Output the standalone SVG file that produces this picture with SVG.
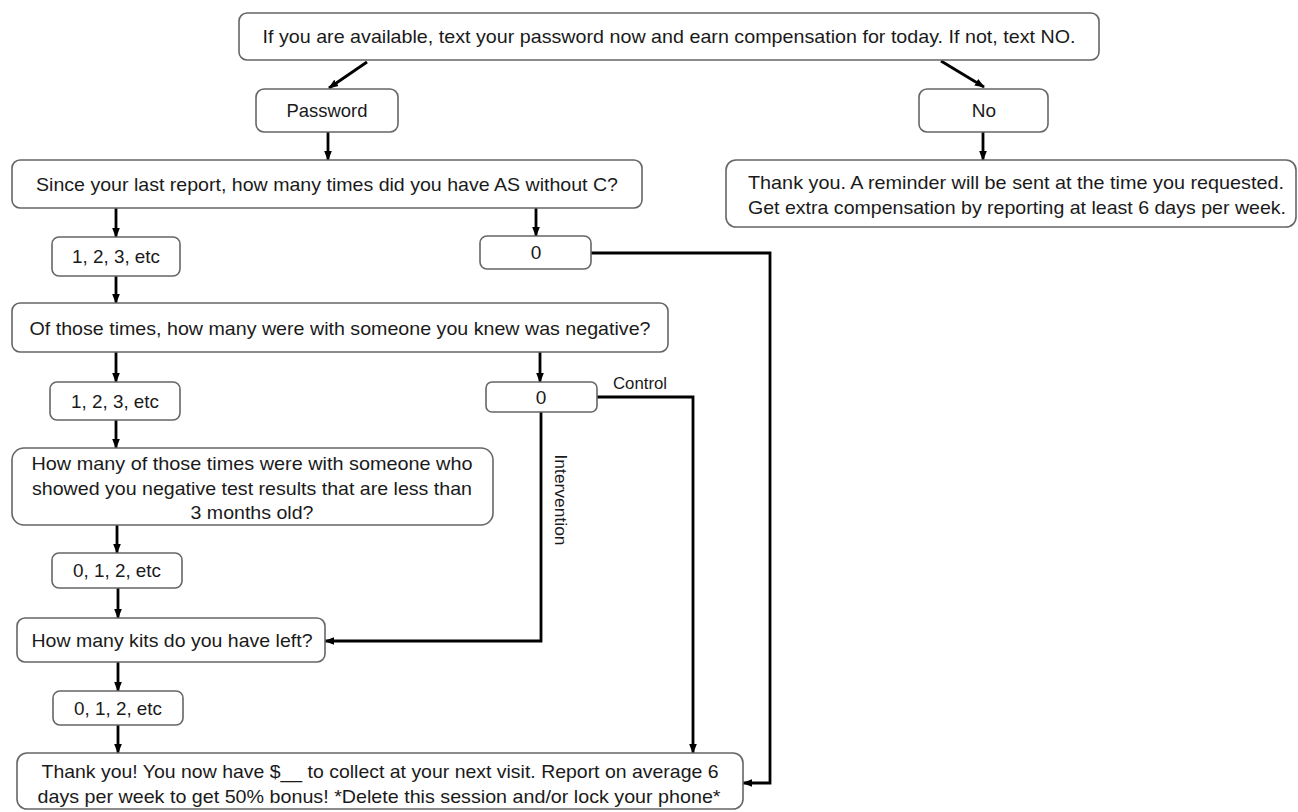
<svg xmlns="http://www.w3.org/2000/svg" width="1298" height="812" viewBox="0 0 1298 812">
<style>
.box{fill:#fff;stroke:#666;stroke-width:1.6}
.t{font-family:"Liberation Sans",Arial,sans-serif;font-size:19px;fill:#1a1a1a;text-anchor:middle}
.s{font-family:"Liberation Sans",Arial,sans-serif;font-size:16px;fill:#1a1a1a;text-anchor:middle}
.c{fill:none;stroke:#000;stroke-width:2.8;marker-end:url(#ah)}
</style>
<defs>
<marker id="ah" markerUnits="userSpaceOnUse" markerWidth="10" markerHeight="10" viewBox="0 0 10 10" refX="9" refY="5" orient="auto">
<path d="M0,1.2 L10,5 L0,8.8 z" fill="#000"/>
</marker>
</defs>
<rect width="1298" height="812" fill="#fff"/>
<g id="connectors">
<path class="c" d="M367,62 L329,88"/>
<path class="c" d="M941,61 L984,87"/>
<path class="c" d="M328,132 L328,160"/>
<path class="c" d="M983,132 L983,160"/>
<path class="c" d="M116,208 L116,237"/>
<path class="c" d="M536,208 L536,236"/>
<path class="c" d="M116,276 L116,303"/>
<path class="c" d="M591,253 L770,253 L770,783 L743,783"/>
<path class="c" d="M116,352 L116,382"/>
<path class="c" d="M540,352 L540,382"/>
<path class="c" d="M597,397 L693,397 L693,753"/>
<path class="c" d="M541,412 L541,641 L325,641"/>
<path class="c" d="M116,420 L116,448"/>
<path class="c" d="M117,525 L117,553"/>
<path class="c" d="M118,588 L118,618"/>
<path class="c" d="M118,662 L118,691"/>
<path class="c" d="M118,725 L118,753"/>
<text class="s" x="640" y="389" textLength="54" lengthAdjust="spacingAndGlyphs">Control</text>
<text class="s" x="0" y="0" transform="translate(555,500) rotate(90)" textLength="91" lengthAdjust="spacingAndGlyphs">Intervention</text>
</g>
<g id="n-top">
<rect class="box" x="239" y="13" width="860" height="47" rx="8"/>
<text class="t" x="669" y="43" textLength="813" lengthAdjust="spacingAndGlyphs">If you are available, text your password now and earn compensation for today. If not, text NO.</text>
</g>
<g id="n-password">
<rect class="box" x="256" y="89" width="142" height="43" rx="8"/>
<text class="t" x="327" y="117" textLength="81" lengthAdjust="spacingAndGlyphs">Password</text>
</g>
<g id="n-no">
<rect class="box" x="919" y="89" width="129" height="43" rx="8"/>
<text class="t" x="984" y="117">No</text>
</g>
<g id="n-thanks-no">
<rect class="box" x="726" y="160" width="570" height="67" rx="10"/>
<text class="t" x="1016" y="189" textLength="536" lengthAdjust="spacingAndGlyphs">Thank you. A reminder will be sent at the time you requested.</text>
<text class="t" x="1017" y="214" textLength="538" lengthAdjust="spacingAndGlyphs">Get extra compensation by reporting at least 6 days per week.</text>
</g>
<g id="n-since">
<rect class="box" x="12" y="160" width="630" height="48" rx="8"/>
<text class="t" x="327" y="191" textLength="582" lengthAdjust="spacingAndGlyphs">Since your last report, how many times did you have AS without C?</text>
</g>
<g id="n-123a">
<rect class="box" x="52" y="237" width="128" height="39" rx="7"/>
<text class="t" x="116" y="263" textLength="88" lengthAdjust="spacingAndGlyphs">1, 2, 3, etc</text>
</g>
<g id="n-0a">
<rect class="box" x="480" y="236" width="111" height="33" rx="7"/>
<text class="t" x="536" y="259">0</text>
</g>
<g id="n-of">
<rect class="box" x="12" y="303" width="656" height="49" rx="8"/>
<text class="t" x="340" y="335" textLength="621" lengthAdjust="spacingAndGlyphs">Of those times, how many were with someone you knew was negative?</text>
</g>
<g id="n-123b">
<rect class="box" x="50" y="382" width="130" height="38" rx="7"/>
<text class="t" x="115" y="408" textLength="88" lengthAdjust="spacingAndGlyphs">1, 2, 3, etc</text>
</g>
<g id="n-0b">
<rect class="box" x="486" y="382" width="111" height="30" rx="6"/>
<text class="t" x="541" y="404">0</text>
</g>
<g id="n-howmany">
<rect class="box" x="12" y="448" width="481" height="77" rx="12"/>
<text class="t" x="252" y="470" textLength="441" lengthAdjust="spacingAndGlyphs">How many of those times were with someone who</text>
<text class="t" x="252" y="495" textLength="440" lengthAdjust="spacingAndGlyphs">showed you negative test results that are less than</text>
<text class="t" x="252" y="519" textLength="123" lengthAdjust="spacingAndGlyphs">3 months old?</text>
</g>
<g id="n-012a">
<rect class="box" x="52" y="553" width="130" height="35" rx="7"/>
<text class="t" x="117" y="577" textLength="88" lengthAdjust="spacingAndGlyphs">0, 1, 2, etc</text>
</g>
<g id="n-kits">
<rect class="box" x="17" y="618" width="308" height="44" rx="8"/>
<text class="t" x="172" y="647" textLength="281" lengthAdjust="spacingAndGlyphs">How many kits do you have left?</text>
</g>
<g id="n-012b">
<rect class="box" x="53" y="691" width="130" height="34" rx="7"/>
<text class="t" x="118" y="715" textLength="88" lengthAdjust="spacingAndGlyphs">0, 1, 2, etc</text>
</g>
<g id="n-final">
<rect class="box" x="17" y="753" width="726" height="56" rx="10"/>
<text class="t" x="380" y="778" textLength="677" lengthAdjust="spacingAndGlyphs">Thank you! You now have $__ to collect at your next visit. Report on average 6</text>
<text class="t" x="379" y="803" textLength="683" lengthAdjust="spacingAndGlyphs">days per week to get 50% bonus! *Delete this session and/or lock your phone*</text>
</g>
</svg>
